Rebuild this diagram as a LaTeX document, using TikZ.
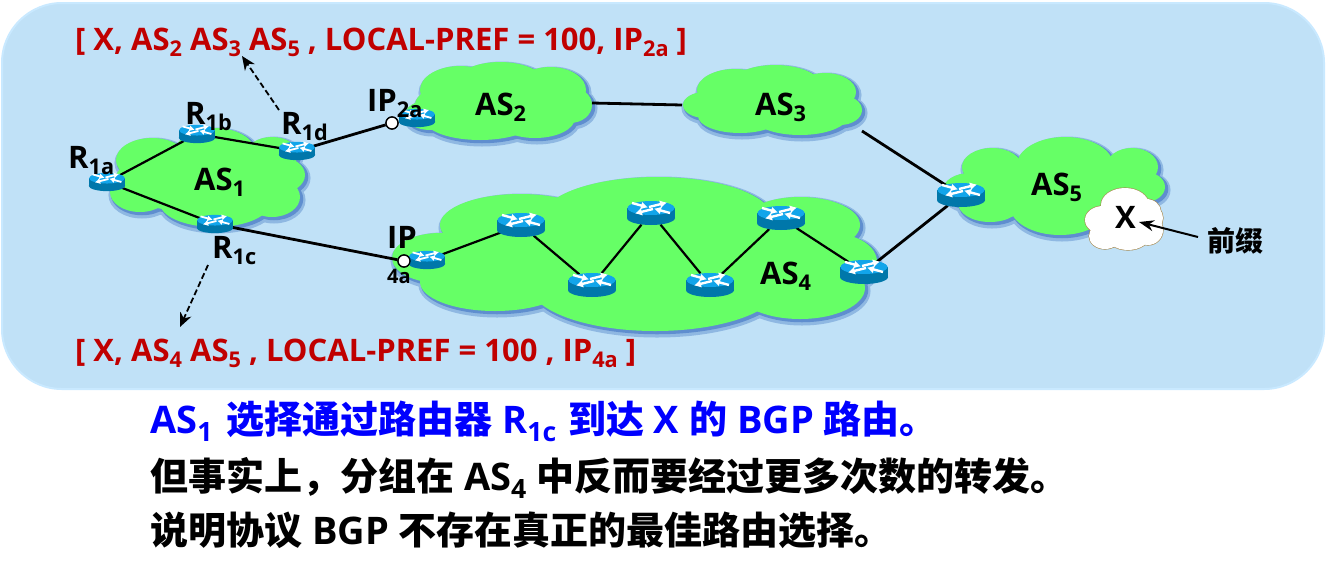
\documentclass[tikz,border=0pt]{standalone}
\usepackage{fontspec}
\setmainfont{Open Sans}
\newfontfamily\cjk{Noto Sans CJK SC}
\usetikzlibrary{arrows.meta,shapes.geometric}
\definecolor{panel}{HTML}{C0E1F7}
\definecolor{panelrim}{HTML}{C9E9FF}
\definecolor{cloudgreen}{HTML}{66FF66}
\definecolor{halo}{HTML}{8FB8E2}
\definecolor{haloin}{HTML}{5F8ECF}
\definecolor{routertop}{HTML}{12A5EA}
\definecolor{routerside}{HTML}{0077AA}
\definecolor{redtxt}{HTML}{C00000}
\definecolor{bluetxt}{HTML}{0000FF}
\definecolor{cloudrim}{HTML}{A88A50}
\newcommand{\fs}[1]{\fontsize{#1}{#1}\selectfont}
\newcommand{\sbs}[1]{\raisebox{-0.22em}{\fontsize{0.70em}{0.70em}\selectfont #1}}
\newcommand{\cloudlayers}[1]{%
  \foreach \x/\y/\a/\b in {#1}{\draw[halo,fill=halo,line width=7] (\x+2,\y+3) ellipse [x radius=\a,y radius=\b];}
  \foreach \x/\y/\a/\b in {#1}{\draw[haloin,fill=haloin,line width=2.5] (\x+2,\y+2) ellipse [x radius=\a,y radius=\b];}
  \foreach \x/\y/\a/\b in {#1}{\fill[cloudgreen] (\x,\y) ellipse [x radius=\a,y radius=\b];}
}
\newcommand{\drawrouter}[2]{%
  \begin{scope}[shift={(#1.center)},scale=#2]
    \fill[routerside] (0,5) ellipse [x radius=24,y radius=7];
    \fill[routerside] (-24,-5) rectangle (24,5);
    \fill[routertop] (0,-5) ellipse [x radius=23.5,y radius=7];
    \draw[white,line width=2.4*#2,-{Latex[length=7*#2,width=8*#2]}] (-19,-10) -- (-3,-5.6);
    \draw[white,line width=2.4*#2,-{Latex[length=7*#2,width=8*#2]}] (19,0) -- (3,-4.4);
    \draw[white,line width=2.4*#2,-{Latex[length=7*#2,width=8*#2]}] (-2,-6) -- (16,-10.5);
    \draw[white,line width=2.4*#2,-{Latex[length=7*#2,width=8*#2]}] (2,-4) -- (-16,0.5);
  \end{scope}}
\tikzset{
  x=1pt,y=-1pt,
  smallrouter/.style={ellipse,minimum width=36,minimum height=20,inner sep=0},
  bigrouter/.style={ellipse,minimum width=47,minimum height=25,inner sep=0},
  portdot/.style={circle,draw=black,fill=white,line width=1.3,minimum size=12,inner sep=0},
  intra/.style={black,line width=2.2},
  inter/.style={black,line width=2.8},
  lookarrow/.style={black,line width=1.8,dash pattern=on 6pt off 3pt,-{Stealth[length=14,width=12]}},
  lbl/.style={anchor=base west,inner sep=0,font=\fs{31}\bfseries,text=black},
  redlbl/.style={anchor=base west,inner sep=0,font=\fs{31}\bfseries,text=redtxt},
  bottomlbl/.style={anchor=base west,inner sep=0,font=\fs{38}\bfseries,text=black},
}
\begin{document}
\begin{tikzpicture}
\useasboundingbox (0,0) rectangle (1326,574);
\fill[white] (0,0) rectangle (1326,574);
\draw[panelrim,fill=panel,line width=2,rounded corners=60pt] (2,3) rectangle (1324,389);

% clouds
\cloudlayers{152/160/36/22,215/152/40/24,272/154/26/17,280/175/25/18,272/197/28/20,140/192/30/20,215/203/55/24,205/180/90/33}
\cloudlayers{460/90/40/24,500/87/48/25,550/90/36/23,570/105/22/18,535/118/40/20,480/120/55/20,430/115/25/15,490/105/75/28}
\cloudlayers{735/90/38/21,775/88/48/23,825/92/31/19,840/110/22/15,800/116/48/19,740/116/42/17,705/105/22/13,770/103/75/25}
\cloudlayers{657/218/115/41,520/225/80/31,800/225/60/28,440/258/48/25,835/262/42/28,495/282/75/29,655/285/125/46,800/288/65/31,640/255/200/50}
\cloudlayers{992/167/30/19,1065/165/48/28,1132/167/26/19,1145/187/20/15,970/190/27/17,990/203/32/19,1060/206/50/29,1055/185/88/27}

% prefix cloud
\foreach \x/\y/\a/\b in {1125/205/24/17,1103/220/18/14,1146/212/15/13,1148/230/15/15,1105/236/16/13,1128/235/22/15,1150/218/13/13}{\draw[cloudrim,fill=white,line width=1.2] (\x,\y) ellipse [x radius=\a,y radius=\b];}
\foreach \x/\y/\a/\b in {1125/205/24/17,1103/220/18/14,1146/212/15/13,1148/230/15/15,1105/236/16/13,1128/235/22/15,1150/218/13/13,1125/220/30/20}{\fill[white] (\x,\y) ellipse [x radius=\a,y radius=\b];}

% routers as named nodes
\node[smallrouter] (r1a) at (107,182) {};
\node[smallrouter] (r1b) at (197,134) {};
\node[smallrouter] (r1d) at (297,151) {};
\node[smallrouter] (r1c) at (215,224) {};
\node[smallrouter] (r2a) at (417,118) {};
\node[smallrouter] (r4a) at (427,260) {};
\node[bigrouter] (a1) at (521,225) {};
\node[bigrouter] (a2) at (592,285) {};
\node[bigrouter] (a3) at (651,213) {};
\node[bigrouter] (a4) at (710,285) {};
\node[bigrouter] (a5) at (781,218) {};
\node[bigrouter] (a6) at (864,272) {};
\node[bigrouter] (r5) at (961,195) {};
\node[portdot] (p2a) at (392,123) {};
\node[portdot] (p4a) at (404,261) {};
\coordinate (as2e) at (592,103);
\coordinate (as3w) at (682,105);
\coordinate (as3e) at (862,131);
\coordinate (look1s) at (279,110);
\coordinate (look1t) at (242,56);
\coordinate (look2s) at (208,265);
\coordinate (look2t) at (180,327);

% connectors
\draw[intra] (r1a) -- (r1b);
\draw[intra] (r1b) -- (r1d);
\draw[intra] (r1a) -- (r1c);
\draw[inter] (r1d) -- (p2a);
\draw[inter] (r1c) -- (p4a);
\draw[intra] (r4a) -- (a1);
\draw[intra] (a1) -- (a2);
\draw[intra] (a2) -- (a3);
\draw[intra] (a3) -- (a4);
\draw[intra] (a4) -- (a5);
\draw[intra] (a5) -- (a6);
\draw[inter] (a6) -- (r5);
\draw[inter] (as2e) -- (as3w);
\draw[inter] (as3e) -- (r5);
\draw[lookarrow] (look1s) -- (look1t);
\draw[lookarrow] (look2s) -- (look2t);

% routers on top
\foreach \n in {r1a,r1b,r1d,r1c,r2a,r4a}{\drawrouter{\n}{0.76}}
\foreach \n in {a1,a2,a3,a4,a5,a6,r5}{\drawrouter{\n}{1}}
\node[portdot] at (p2a) {};
\node[portdot] at (p4a) {};

% labels
\node[redlbl] (t1) at (75,50) {[ X, AS\sbs{2} AS\sbs{3} AS\sbs{5} , LOCAL-PREF = 100, IP\sbs{2a} ]};
\node[redlbl] (t2) at (75,361) {[ X, AS\sbs{4} AS\sbs{5} , LOCAL-PREF = 100 , IP\sbs{4a} ]};
\node[lbl] (l1a) at (68,168) {R\sbs{1a}};
\node[lbl] (l1b) at (185,124) {R\sbs{1b}};
\node[lbl] (l1d) at (281,134) {R\sbs{1d}};
\node[lbl] (l1c) at (212,258) {R\sbs{1c}};
\node[lbl] (lip2) at (367,111) {IP\sbs{2a}};
\node[lbl] (lip4) at (387,248) {IP};
\node[anchor=base west,inner sep=0,font=\fs{20}\bfseries] (l4a) at (387,283) {4a};
\node[lbl] (as1) at (194,190) {AS\sbs{1}};
\node[lbl] (as2) at (475,115) {AS\sbs{2}};
\node[lbl] (as3) at (755,115) {AS\sbs{3}};
\node[lbl] (as4) at (760,284) {AS\sbs{4}};
\node[lbl] (as5) at (1031,195) {AS\sbs{5}};
\node[lbl] (xx) at (1115,228) {X};
\node[anchor=base west,inner sep=0,font=\fs{28}\cjk\bfseries] (pre) at (1207,251) {前缀};
\draw[black,line width=2,-{Stealth[length=15,width=11]}] (1198,237) -- (1139,222);

\node[bottomlbl,text=bluetxt] (b1) at (150,433) {AS\sbs{1}\kern4pt{} {\cjk 选择通过路由器} R\sbs{1c}\kern2pt{} {\cjk 到达} X {\cjk 的} BGP {\cjk 路由。}};
\node[bottomlbl] (b2) at (150,490) {{\cjk 但事实上，分组在} AS\sbs{4} {\cjk 中反而要经过更多次数的转发。}};
\node[bottomlbl] (b3) at (150,544) {{\cjk 说明协议} BGP {\cjk 不存在真正的最佳路由选择。}};
\end{tikzpicture}
\end{document}
